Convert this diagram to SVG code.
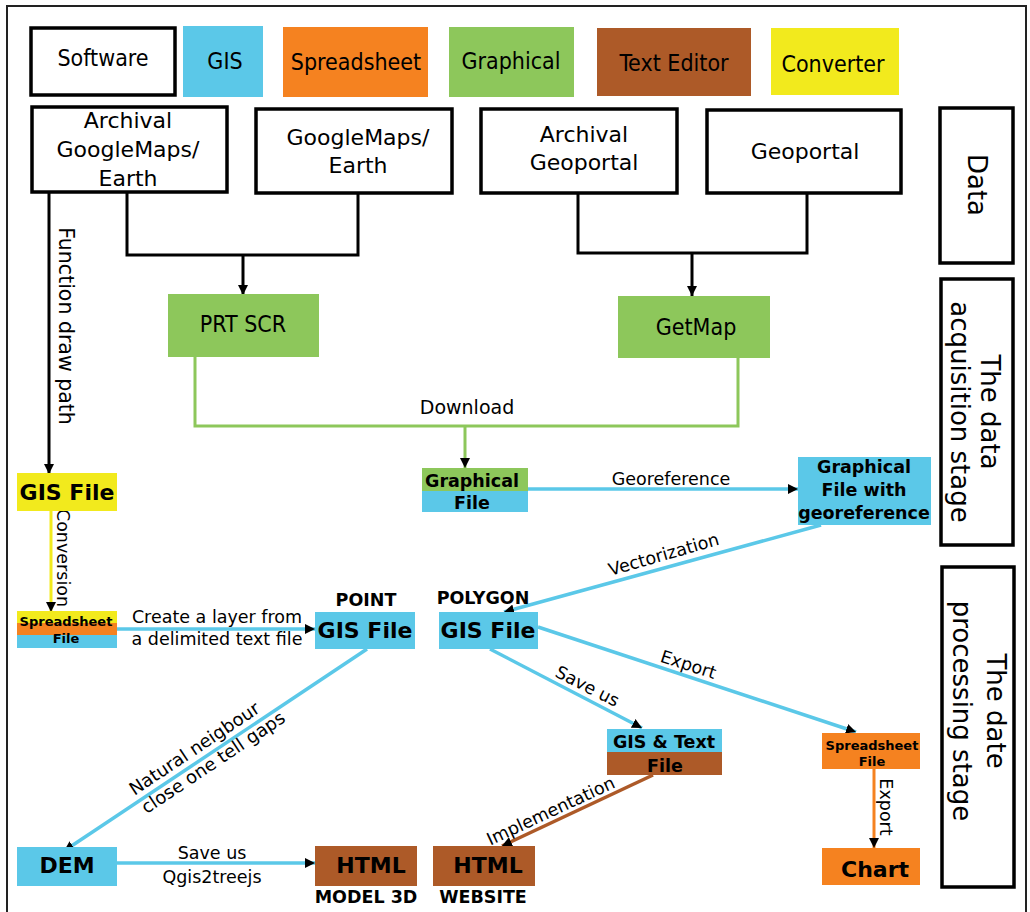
<svg xmlns="http://www.w3.org/2000/svg" width="1030" height="912" viewBox="0 0 1030 912">
<defs>
<marker id="arr" viewBox="0 0 10 10" refX="10" refY="5" markerWidth="10" markerHeight="10" markerUnits="userSpaceOnUse" orient="auto">
<path d="M0,0 L10,5 L0,10 z" fill="#000"/>
</marker>
<style>
text{font-family:"DejaVu Sans","Verdana",sans-serif;fill:#000}
.leg{font-family:"DejaVu Sans Condensed","DejaVu Sans",sans-serif;font-size:23px;text-anchor:middle}
.dat{font-size:22px;text-anchor:middle}
.side{font-size:26px;text-anchor:middle;dominant-baseline:central}
.lbl{font-size:17.5px;text-anchor:middle}
.lblc{font-size:17.5px;text-anchor:middle;dominant-baseline:central}
.b22{font-size:22px;font-weight:bold;text-anchor:middle}
.b18{font-size:17.5px;font-weight:bold;text-anchor:middle}
.b13{font-size:13px;font-weight:bold;text-anchor:middle}
.box{fill:#fff;stroke:#000;stroke-width:3.5}
.blue{fill:#5BC8E8}.orange{fill:#F58220}.green{fill:#8DC75B}.brown{fill:#AD5A28}.yellow{fill:#F2EA1D}
.cb{fill:none;stroke:#000;stroke-width:3}
.cblue{fill:none;stroke:#5BC8E8;stroke-width:3.5}
.cgreen{fill:none;stroke:#8DC75B;stroke-width:3}
.cyellow{fill:none;stroke:#F2EA1D;stroke-width:3}
.corange{fill:none;stroke:#F58220;stroke-width:3}
.cbrown{fill:none;stroke:#AD5A28;stroke-width:3.5}
</style>
</defs>
<rect width="1030" height="912" fill="#fff"/>
<path d="M7,912 V6 H1026 V912" fill="none" stroke="#222" stroke-width="2"/>

<g id="legend">
<g id="leg-software"><rect class="box" x="31" y="28" width="144" height="67"/><text class="leg" x="103" y="66">Software</text></g>
<g id="leg-gis"><rect class="blue" x="183" y="26" width="80" height="71"/><text class="leg" x="225" y="69">GIS</text></g>
<g id="leg-spreadsheet"><rect class="orange" x="283" y="27" width="145" height="70"/><text class="leg" x="356" y="70">Spreadsheet</text></g>
<g id="leg-graphical"><rect class="green" x="449" y="27" width="125" height="70"/><text class="leg" x="511" y="69">Graphical</text></g>
<g id="leg-texteditor"><rect class="brown" x="597" y="28" width="154" height="68"/><text class="leg" x="674" y="71">Text Editor</text></g>
<g id="leg-converter"><rect class="yellow" x="771" y="28" width="128" height="67"/><text class="leg" x="833" y="72">Converter</text></g>
</g>

<g id="connectors">
<path class="cb" d="M127,192 V255 H358 V193"/>
<path class="cb" d="M243,255 V295" marker-end="url(#arr)"/>
<path class="cb" d="M578,193 V253 H807 V193"/>
<path class="cb" d="M692,253 V296" marker-end="url(#arr)"/>
<path class="cb" d="M49,192 V474" marker-end="url(#arr)"/>
<path class="cgreen" d="M195,357 V426 H738 V358"/>
<path class="cgreen" d="M465,426 V468" marker-end="url(#arr)"/>
<path class="cyellow" d="M51,511 V612" marker-end="url(#arr)"/>
<path class="cblue" d="M117,629 H315" marker-end="url(#arr)"/>
<path class="cblue" d="M528,489 H798" marker-end="url(#arr)"/>
<path class="cblue" d="M821,525 L504,612" marker-end="url(#arr)"/>
<path class="cblue" d="M538,627 L856,732" marker-end="url(#arr)"/>
<path class="cblue" d="M490,649 L642,728" marker-end="url(#arr)"/>
<path class="cblue" d="M367,649 L64,851" marker-end="url(#arr)"/>
<path class="cblue" d="M117,863 H315" marker-end="url(#arr)"/>
<path class="cbrown" d="M653,775 L502,846" marker-end="url(#arr)"/>
<path class="corange" d="M874,769 V848" marker-end="url(#arr)"/>

<text class="lblc" style="font-size:20.5px" transform="translate(66,326) rotate(90)">Function draw path</text>
<text class="lbl" style="font-size:19px" x="467" y="414">Download</text>
<text class="lbl" x="671" y="485">Georeference</text>
<text class="lblc" transform="translate(63,558) rotate(90)">Conversion</text>
<text class="lbl" x="217" y="623">Create a layer from</text>
<text class="lbl" x="217" y="645">a delimited text file</text>
<g transform="translate(667,566) rotate(-16)"><text class="lblc" x="0" y="-12">Vectorization</text></g>
<g transform="translate(685,675) rotate(18)"><text class="lblc" x="0" y="-11">Export</text></g>
<g transform="translate(582,697) rotate(27)"><text class="lblc" x="0" y="-12">Save us</text></g>
<g transform="translate(203,758) rotate(-33.7)"><text class="lblc" style="font-size:18px" x="-2" y="-13">Natural neigbour</text><text class="lblc" style="font-size:18px" x="6" y="9">close one tell gaps</text></g>
<g transform="translate(555,820) rotate(-25)"><text class="lblc" x="0" y="-10">Implementation</text></g>
<text class="lbl" x="212" y="859">Save us</text>
<text class="lbl" x="212" y="883">Qgis2treejs</text>
<text class="lblc" transform="translate(886,807) rotate(90)">Export</text>
</g>

<g id="data-archival-gm"><rect class="box" x="32" y="107" width="195" height="85"/><text class="dat" x="128" y="128">Archival</text><text class="dat" x="128" y="157">GoogleMaps/</text><text class="dat" x="128" y="186">Earth</text></g>
<g id="data-gm"><rect class="box" x="256" y="109" width="196" height="84"/><text class="dat" x="358" y="145">GoogleMaps/</text><text class="dat" x="358" y="173">Earth</text></g>
<g id="data-archival-geo"><rect class="box" x="481" y="109" width="196" height="84"/><text class="dat" x="584" y="142">Archival</text><text class="dat" x="584" y="170">Geoportal</text></g>
<g id="data-geo"><rect class="box" x="707" y="110" width="194" height="83"/><text class="dat" x="805" y="159">Geoportal</text></g>

<g id="prtscr"><rect class="green" x="168" y="294" width="151" height="63"/><text class="leg" x="243" y="332">PRT SCR</text></g>
<g id="getmap"><rect class="green" x="618" y="296" width="152" height="62"/><text class="leg" x="696" y="335">GetMap</text></g>

<g id="graphical-file"><rect class="green" x="422" y="468" width="106" height="23"/><rect class="blue" x="422" y="491" width="106" height="21"/><text class="b18" x="472" y="487">Graphical</text><text class="b18" x="472" y="509">File</text></g>
<g id="graphical-georef"><rect class="blue" x="798" y="457" width="133" height="68"/><text class="b18" x="864" y="473">Graphical</text><text class="b18" x="864" y="496">File with</text><text class="b18" x="864" y="519">georeference</text></g>

<g id="gis-file-yellow"><rect class="yellow" x="17" y="473" width="100" height="38"/><text class="b22" x="67" y="500">GIS File</text></g>
<g id="spreadsheet-file-left"><rect class="yellow" x="17" y="611" width="100" height="12"/><rect class="orange" x="17" y="623" width="100" height="12"/><rect class="blue" x="17" y="635" width="100" height="13"/><text class="b13" x="66" y="626">Spreadsheet</text><text class="b13" x="66" y="643">File</text></g>

<g id="gis-point"><text class="b18" x="366" y="606">POINT</text><rect class="blue" x="315" y="612" width="100" height="37"/><text class="b22" x="365" y="638">GIS File</text></g>
<g id="gis-polygon"><text class="b18" x="483" y="604">POLYGON</text><rect class="blue" x="439" y="612" width="99" height="37"/><text class="b22" x="488" y="638">GIS File</text></g>

<g id="gis-text-file"><rect class="blue" x="607" y="729" width="115" height="23"/><rect class="brown" x="607" y="752" width="115" height="23"/><text class="b18" x="664" y="748">GIS &amp; Text</text><text class="b18" x="665" y="772">File</text></g>
<g id="spreadsheet-file-right"><rect class="orange" x="822" y="733" width="98" height="36"/><text class="b13" x="872" y="750">Spreadsheet</text><text class="b13" x="872" y="766">File</text></g>
<g id="chart"><rect class="orange" x="822" y="848" width="98" height="37"/><text class="b22" x="875" y="877">Chart</text></g>

<g id="dem"><rect class="blue" x="17" y="847" width="100" height="39"/><text class="b22" x="67" y="873">DEM</text></g>
<g id="html-model"><rect class="brown" x="315" y="846" width="102" height="40"/><text class="b22" x="371" y="873">HTML</text><text class="b18" x="366" y="903">MODEL 3D</text></g>
<g id="html-website"><rect class="brown" x="433" y="846" width="102" height="40"/><text class="b22" x="488" y="873">HTML</text><text class="b18" x="483" y="903">WEBSITE</text></g>

<g id="stage-data"><rect class="box" x="940" y="108" width="73" height="155"/><text class="side" transform="translate(977,185) rotate(90)">Data</text></g>
<g id="stage-acquisition"><rect class="box" x="941" y="279" width="72" height="266"/><g transform="translate(975,412) rotate(90)"><text class="side" x="0" y="-15">The data</text><text class="side" x="0" y="15">acquisition stage</text></g></g>
<g id="stage-processing"><rect class="box" x="942" y="567" width="72" height="320"/><g transform="translate(979,711) rotate(90)"><text class="side" x="0" y="-17">The date</text><text class="side" x="0" y="17">processing stage</text></g></g>
</svg>
